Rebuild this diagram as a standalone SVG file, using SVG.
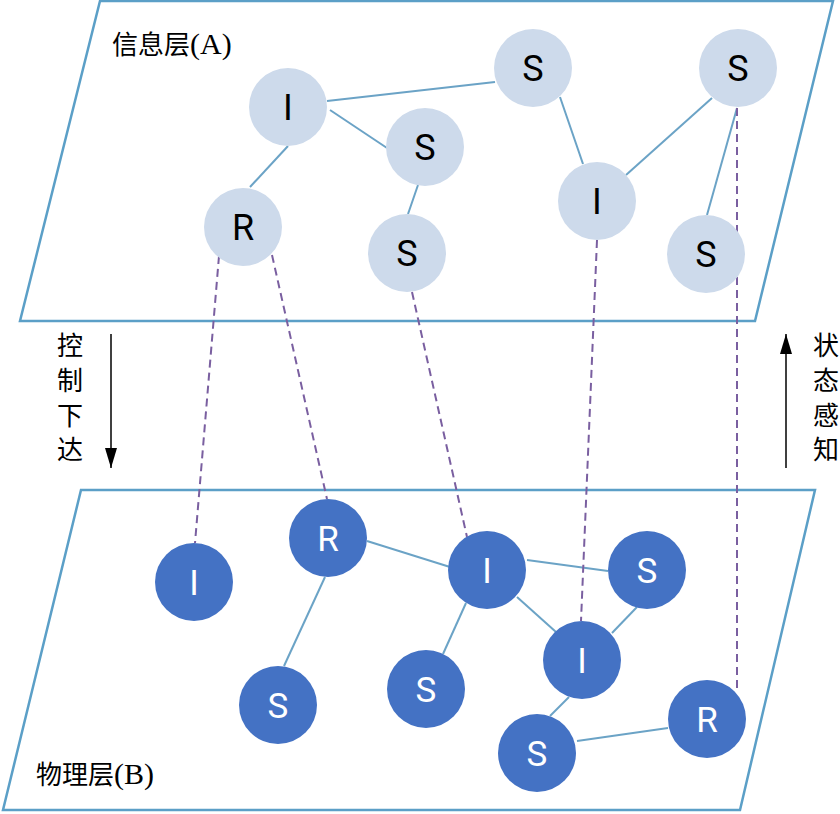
<svg xmlns="http://www.w3.org/2000/svg" width="840" height="814" viewBox="0 0 840 814">
<defs>
<style>
.plane{fill:none;stroke:#5b9fc7;stroke-width:2.5}
.edge{stroke:#6ba3c6;stroke-width:2;fill:none}
.dash{stroke:#7a5fa0;stroke-width:2;stroke-dasharray:8,5;fill:none}
.ntop circle{fill:#cddaeb}
.nbot circle{fill:#4472c4}
.ntop text{fill:#000;font-family:Roboto,"Liberation Sans",sans-serif;font-size:36px;text-anchor:middle}
.nbot text{fill:#fff;font-family:Roboto,"Liberation Sans",sans-serif;font-size:35px;text-anchor:middle}
.lbl{font-family:"Liberation Serif","Noto Sans CJK SC",serif;font-size:26px;fill:#000}
.lat{font-size:30px}
.vt{font-family:"Noto Sans CJK SC",sans-serif;font-size:26px;fill:#000;text-anchor:middle}
.arr{stroke:#000;stroke-width:1.5;fill:none}
</style>
<marker id="ah" viewBox="0 0 20 12" refX="20" refY="6" markerWidth="20" markerHeight="12" markerUnits="userSpaceOnUse" orient="auto">
<path d="M0,0 L20,6 L0,12 Z" fill="#000"/>
</marker>
</defs>
<rect width="840" height="814" fill="#fff"/>
<g id="planes">
<polygon class="plane" points="100,1 833,1 755,321 20,321"/>
<polygon class="plane" points="81,490 815,490 740,810 3,810"/>
</g>
<g id="connectors">
<line class="edge" x1="327" y1="101" x2="495" y2="82"/>
<line class="edge" x1="330" y1="110" x2="387" y2="148"/>
<line class="edge" x1="288" y1="146" x2="250" y2="187"/>
<line class="edge" x1="418" y1="185" x2="408" y2="214"/>
<line class="edge" x1="560" y1="97" x2="583" y2="164"/>
<line class="edge" x1="626" y1="175" x2="712" y2="98"/>
<line class="edge" x1="737" y1="108" x2="707" y2="215"/>
<line class="edge" x1="367" y1="541" x2="450" y2="567"/>
<line class="edge" x1="325" y1="577" x2="284" y2="666"/>
<line class="edge" x1="527" y1="560" x2="608" y2="571"/>
<line class="edge" x1="466" y1="603" x2="443" y2="654"/>
<line class="edge" x1="517" y1="597" x2="556" y2="632"/>
<line class="edge" x1="637" y1="607" x2="612" y2="633"/>
<line class="edge" x1="569" y1="697" x2="550" y2="716"/>
<line class="edge" x1="577" y1="741" x2="668" y2="728"/>
<line class="dash" x1="219" y1="256" x2="195" y2="543"/>
<line class="dash" x1="272" y1="255" x2="327" y2="499"/>
<line class="dash" x1="412" y1="292" x2="467" y2="537"/>
<line class="dash" x1="597" y1="240" x2="581" y2="621"/>
<line class="dash" x1="737" y1="108" x2="737" y2="690"/>
<line class="arr" x1="111" y1="334" x2="111" y2="468" marker-end="url(#ah)"/>
<line class="arr" x1="786" y1="468" x2="786" y2="334" marker-end="url(#ah)"/>
</g>
<g id="labels">
<text class="lbl" x="112" y="54">信息层<tspan class="lat">(A)</tspan></text>
<text class="lbl" x="36" y="784">物理层<tspan class="lat">(B)</tspan></text>
<text class="vt" x="70" y="355">控</text>
<text class="vt" x="70" y="390">制</text>
<text class="vt" x="70" y="425">下</text>
<text class="vt" x="70" y="459">达</text>
<text class="vt" x="826" y="355">状</text>
<text class="vt" x="826" y="390">态</text>
<text class="vt" x="826" y="425">感</text>
<text class="vt" x="826" y="459">知</text>
</g>
<g id="top-I1" class="ntop"><circle cx="288" cy="107" r="39"/><text x="288" y="120">I</text></g>
<g id="top-S1" class="ntop"><circle cx="533" cy="68" r="39"/><text x="533" y="81">S</text></g>
<g id="top-S2" class="ntop"><circle cx="738" cy="68" r="39"/><text x="738" y="81">S</text></g>
<g id="top-S3" class="ntop"><circle cx="425" cy="147" r="39"/><text x="425" y="160">S</text></g>
<g id="top-R1" class="ntop"><circle cx="243" cy="227" r="39"/><text x="243" y="240">R</text></g>
<g id="top-S4" class="ntop"><circle cx="407" cy="253" r="39"/><text x="407" y="266">S</text></g>
<g id="top-I2" class="ntop"><circle cx="597" cy="201" r="39"/><text x="597" y="214">I</text></g>
<g id="top-S5" class="ntop"><circle cx="706" cy="254" r="39"/><text x="706" y="267">S</text></g>
<g id="bot-I1" class="nbot"><circle cx="194" cy="582" r="39"/><text x="194" y="595">I</text></g>
<g id="bot-R1" class="nbot"><circle cx="328" cy="538" r="39"/><text x="328" y="551">R</text></g>
<g id="bot-I2" class="nbot"><circle cx="487" cy="570" r="39"/><text x="487" y="583">I</text></g>
<g id="bot-S1" class="nbot"><circle cx="647" cy="570" r="39"/><text x="647" y="583">S</text></g>
<g id="bot-I3" class="nbot"><circle cx="582" cy="660" r="39"/><text x="582" y="673">I</text></g>
<g id="bot-S2" class="nbot"><circle cx="278" cy="705" r="39"/><text x="278" y="718">S</text></g>
<g id="bot-S3" class="nbot"><circle cx="426" cy="689" r="39"/><text x="426" y="702">S</text></g>
<g id="bot-S4" class="nbot"><circle cx="537" cy="753" r="39"/><text x="537" y="766">S</text></g>
<g id="bot-R2" class="nbot"><circle cx="707" cy="719" r="39"/><text x="707" y="732">R</text></g>
</svg>
